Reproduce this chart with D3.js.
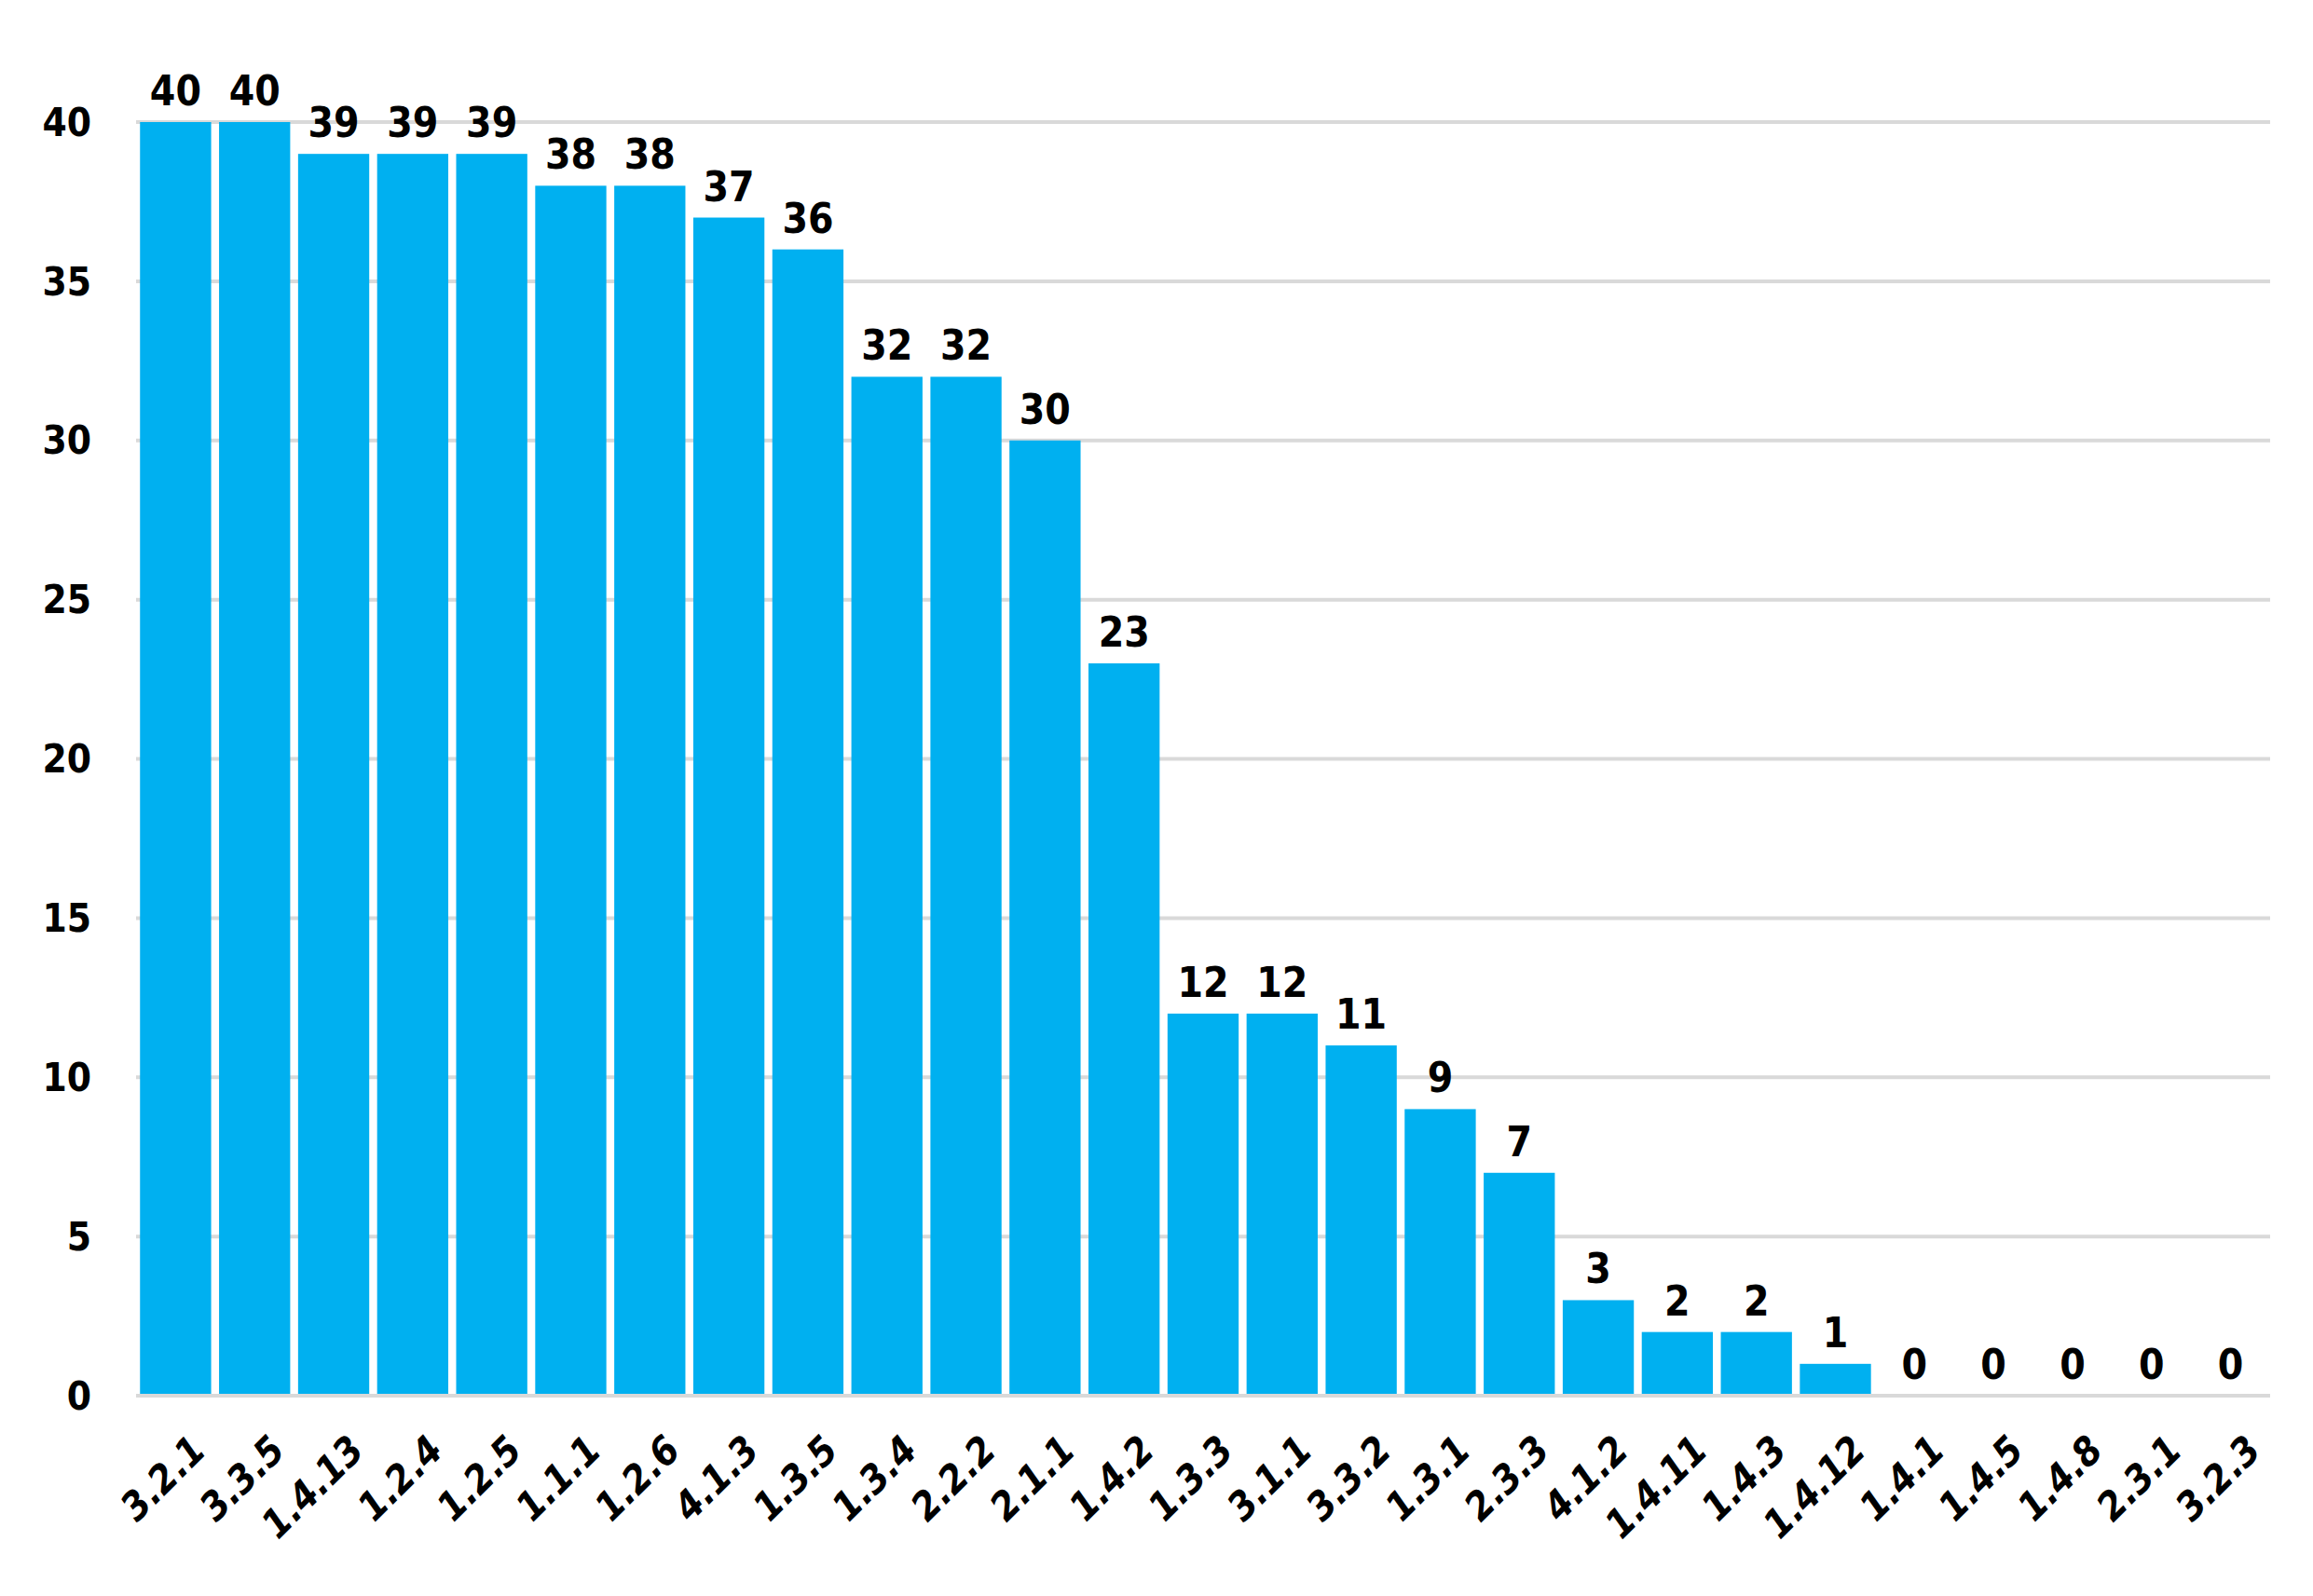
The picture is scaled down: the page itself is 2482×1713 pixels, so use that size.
<!DOCTYPE html>
<html><head><meta charset="utf-8">
<script src="https://cdn.jsdelivr.net/npm/d3@7"></script>
<style>body{margin:0;background:#fff}text{font-family:"Liberation Sans Narrow","DejaVu Sans Condensed",sans-serif;font-weight:bold}</style>
</head><body>
<script>
const categories = ["3.2.1","3.3.5","1.4.13","1.2.4","1.2.5","1.1.1","1.2.6","4.1.3","1.3.5","1.3.4","2.2.2","2.1.1","1.4.2","1.3.3","3.1.1","3.3.2","1.3.1","2.3.3","4.1.2","1.4.11","1.4.3","1.4.12","1.4.1","1.4.5","1.4.8","2.3.1","3.2.3"];
const values = [40,40,39,39,39,38,38,37,36,32,32,30,23,12,12,11,9,7,3,2,2,1,0,0,0,0,0];
const yTicks = [0,5,10,15,20,25,30,35,40];

const W = 2482, H = 1713;
const mLeft = 146, mRight = 2436, mTop = 131, mBottom = 1498;

const svg = d3.select('body').append('svg').attr('width', W).attr('height', H);
const x = d3.scaleBand().domain(categories).range([mLeft, mRight]).paddingInner(0.1).paddingOuter(0.05);
const y = d3.scaleLinear().domain([0, 40]).range([mBottom, mTop]);

// gridlines
svg.selectAll('line.grid').data(yTicks).enter().append('line')
   .attr('x1', mLeft).attr('x2', mRight)
   .attr('y1', d => y(d)).attr('y2', d => y(d))
   .attr('stroke', '#d9d9d9').attr('stroke-width', 4);

svg.selectAll('text.yt').data(yTicks).enter().append('text')
   .attr('x', 98).attr('y', d => y(d)).attr('dy', '0.35em')
   .attr('text-anchor', 'end').attr('font-size', 42).text(d => d);

svg.selectAll('rect').data(values).enter().append('rect')
   .attr('x', (d, i) => x(categories[i]))
   .attr('y', d => y(d))
   .attr('width', x.bandwidth())
   .attr('height', d => Math.max(0, mBottom - y(d) - 2))
   .attr('fill', '#00b0f0');

svg.selectAll('text.val').data(values).enter().append('text')
   .attr('x', (d, i) => x(categories[i]) + x.bandwidth() / 2)
   .attr('y', d => y(d) - 18)
   .attr('text-anchor', 'middle').attr('font-size', 44).text(d => d);

svg.selectAll('text.xl').data(categories).enter().append('text')
   .attr('transform', d => `translate(${x(d) + x.bandwidth() / 2 + 14},${mBottom + 40}) rotate(-45)`)
   .attr('text-anchor', 'end').attr('dy', '0.7em').attr('font-size', 42)
   .attr('font-style', 'italic').text(d => d);
</script>
</body></html>
